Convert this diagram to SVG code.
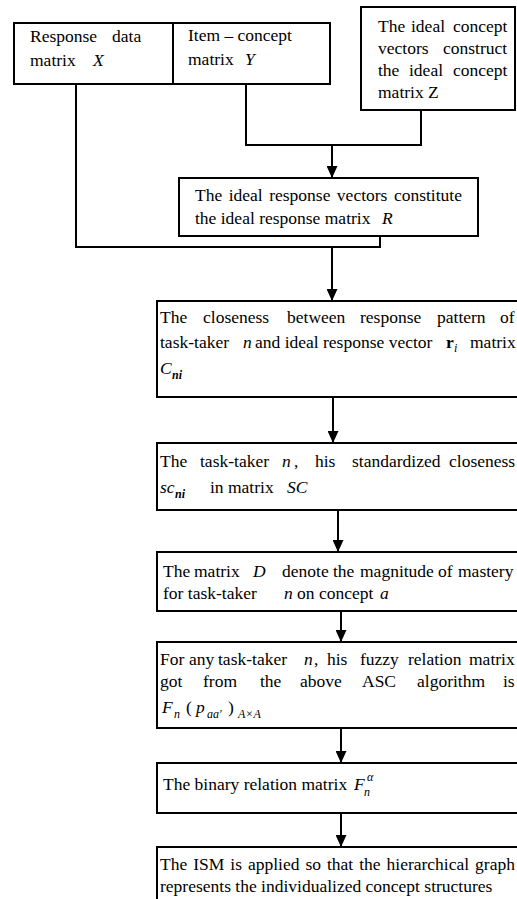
<svg xmlns="http://www.w3.org/2000/svg" width="517" height="899" viewBox="0 0 517 899">
  <style>
    .box { fill: #fff; stroke: #000; stroke-width: 2; }
    .wire { fill: none; stroke: #000; stroke-width: 2; }
    .t { font-family: "Liberation Serif", "Times New Roman", serif; font-size: 17.5px; fill: #000; }
    .i { font-style: italic; }
    .b { font-weight: bold; }
    .sub { font-size: 12px; font-style: italic; }
  </style>
  <defs>
    <marker id="arrow" viewBox="0 0 12 11" markerWidth="12" markerHeight="11" refX="12" refY="5.5" orient="auto" markerUnits="userSpaceOnUse">
      <path d="M0,0 L12,5.5 L0,11 Z" fill="#000"/>
    </marker>
  </defs>
  <rect width="517" height="899" fill="#fff"/>

  <g id="connectors">
    <path class="wire" d="M76,84 V247 H380 V236"/>
    <path class="wire" d="M246,84 V145 H421 V110"/>
    <path class="wire" d="M332,145 V178" marker-end="url(#arrow)"/>
    <path class="wire" d="M332,247 V301" marker-end="url(#arrow)"/>
    <path class="wire" d="M333,397 V443" marker-end="url(#arrow)"/>
    <path class="wire" d="M338,510 V552" marker-end="url(#arrow)"/>
    <path class="wire" d="M341,611 V642" marker-end="url(#arrow)"/>
    <path class="wire" d="M341,728 V763" marker-end="url(#arrow)"/>
    <path class="wire" d="M341,813 V847" marker-end="url(#arrow)"/>
  </g>

  <g id="node-x">
    <rect class="box" x="14" y="23" width="159" height="61"/>
    <text class="t" y="42"><tspan x="30">Response</tspan><tspan x="112">data</tspan></text>
    <text class="t" x="30" y="66">matrix</text>
    <text class="t i" x="93" y="66">X</text>
  </g>

  <g id="node-y">
    <rect class="box" x="173" y="23" width="157" height="61"/>
    <text class="t" x="188" y="41">Item – concept</text>
    <text class="t" x="188" y="65">matrix</text>
    <text class="t i" x="245" y="65">Y</text>
  </g>

  <g id="node-z">
    <rect class="box" x="361" y="7" width="154" height="103"/>
    <text class="t" y="32"><tspan x="378">The</tspan><tspan x="411">ideal</tspan><tspan x="453">concept</tspan></text>
    <text class="t" y="54"><tspan x="378">vectors</tspan><tspan x="443">construct</tspan></text>
    <text class="t" y="76"><tspan x="378">the</tspan><tspan x="409">ideal</tspan><tspan x="453">concept</tspan></text>
    <text class="t" x="378" y="98">matrix  Z</text>
  </g>

  <g id="node-r">
    <rect class="box" x="179" y="178" width="299" height="58"/>
    <text class="t" x="195" y="201" word-spacing="2.1">The ideal response vectors constitute</text>
    <text class="t" x="195" y="224">the ideal response matrix</text>
    <text class="t i" x="382" y="224">R</text>
  </g>

  <g id="node-c">
    <rect class="box" x="157" y="301" width="380" height="96"/>
    <text class="t" y="323"><tspan x="160">The</tspan><tspan x="203">closeness</tspan><tspan x="287">between</tspan><tspan x="360">response</tspan><tspan x="437">pattern</tspan><tspan x="500">of</tspan></text>
    <text class="t" x="160" y="348">task-taker</text>
    <text class="t i" x="243" y="348">n</text>
    <text class="t" x="255" y="348">and ideal response vector</text>
    <text class="t b" x="446" y="348">r</text>
    <text class="t sub" x="454" y="352">i</text>
    <text class="t" x="470" y="348">matrix</text>
    <text class="t i" x="160" y="374">C</text>
    <text class="t sub b" x="172" y="379">ni</text>
  </g>

  <g id="node-sc">
    <rect class="box" x="157" y="443" width="380" height="67"/>
    <text class="t" y="467"><tspan x="160">The</tspan><tspan x="200">task-taker</tspan></text>
    <text class="t i" x="282" y="467">n</text>
    <text class="t" y="467"><tspan x="294">,</tspan><tspan x="315">his</tspan><tspan x="352">standardized</tspan><tspan x="449">closeness</tspan></text>
    <text class="t i" x="160" y="493">sc</text>
    <text class="t sub b" x="175" y="498">ni</text>
    <text class="t" x="210" y="493">in matrix</text>
    <text class="t i" x="287" y="493">SC</text>
  </g>

  <g id="node-d">
    <rect class="box" x="157" y="552" width="380" height="59"/>
    <text class="t" y="577"><tspan x="163">The</tspan><tspan x="194">matrix</tspan></text>
    <text class="t i" x="253" y="577">D</text>
    <text class="t" y="577"><tspan x="282">denote</tspan><tspan x="333">the</tspan><tspan x="360">magnitude</tspan><tspan x="438">of</tspan><tspan x="458">mastery</tspan></text>
    <text class="t" x="163" y="599">for task-taker</text>
    <text class="t i" x="284" y="599">n</text>
    <text class="t" x="297" y="599">on concept</text>
    <text class="t i" x="380" y="599">a</text>
  </g>

  <g id="node-f">
    <rect class="box" x="157" y="642" width="380" height="86"/>
    <text class="t" y="665"><tspan x="160">For</tspan><tspan x="189">any</tspan><tspan x="218">task-taker</tspan></text>
    <text class="t i" x="304" y="665">n</text>
    <text class="t" y="665"><tspan x="314">,</tspan><tspan x="327">his</tspan><tspan x="360">fuzzy</tspan><tspan x="408">relation</tspan><tspan x="469">matrix</tspan></text>
    <text class="t" y="687"><tspan x="160">got</tspan><tspan x="203">from</tspan><tspan x="260">the</tspan><tspan x="300">above</tspan><tspan x="362">ASC</tspan><tspan x="417">algorithm</tspan><tspan x="503">is</tspan></text>
    <text class="t i" x="162" y="713">F</text>
    <text class="t sub" x="174" y="718">n</text>
    <text class="t" x="186" y="713">(</text>
    <text class="t i" x="196" y="713">p</text>
    <text class="t sub" x="207" y="718">aa′</text>
    <text class="t" x="228" y="713">)</text>
    <text class="t sub" x="238" y="718">A×A</text>
  </g>

  <g id="node-binary">
    <rect class="box" x="157" y="763" width="380" height="50"/>
    <text class="t" x="163" y="790">The binary relation matrix</text>
    <text class="t i" x="354" y="790">F</text>
    <text class="t sub" x="364" y="796">n</text>
    <text class="t sub" x="367" y="781">α</text>
  </g>

  <g id="node-ism">
    <rect class="box" x="157" y="847" width="380" height="60"/>
    <text class="t" x="160" y="870" word-spacing="1.6">The ISM is applied so that the hierarchical graph</text>
    <text class="t" x="160" y="892">represents the individualized concept structures</text>
  </g>
</svg>
